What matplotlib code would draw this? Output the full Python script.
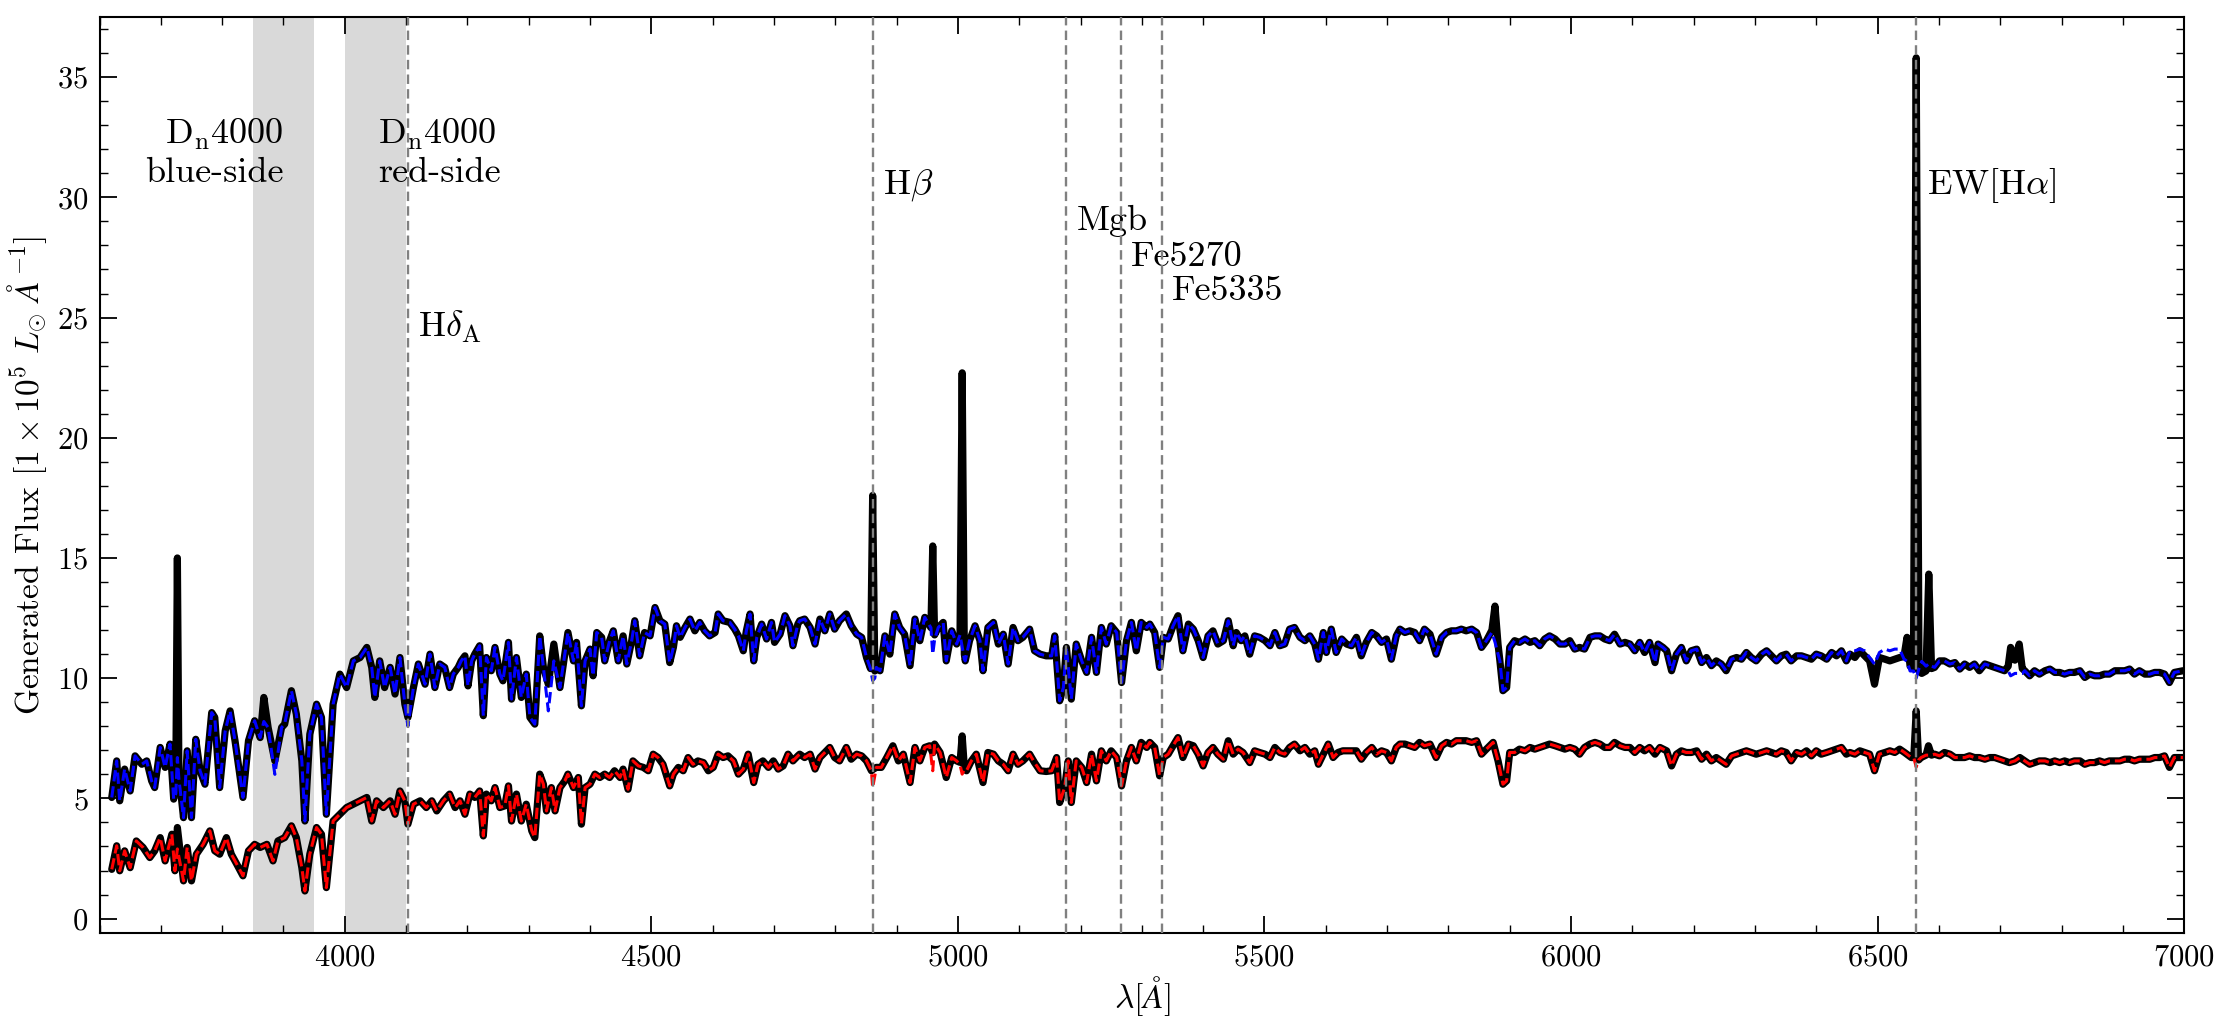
import matplotlib
matplotlib.use("Agg")
import matplotlib.pyplot as plt
from matplotlib.ticker import MultipleLocator

plt.rcParams['font.family'] = 'serif'
plt.rcParams['font.serif'] = ['cmr10']
plt.rcParams['mathtext.fontset'] = 'cm'
plt.rcParams['axes.formatter.use_mathtext'] = True
plt.rcParams['axes.unicode_minus'] = False

# ---------------- data ----------------
upper_wave = [
    3620, 3628, 3633, 3641, 3650, 3658, 3669, 3677, 3685, 3690, 3699, 3707, 3715, 3721,
    3724.5, 3727, 3729.5, 3737, 3743, 3750, 3757, 3764, 3772, 3783, 3788, 3796, 3805, 3813,
    3821, 3834, 3843, 3853, 3862, 3868, 3875, 3886, 3897, 3902, 3913, 3921, 3930, 3935,
    3943, 3954, 3962, 3970, 3981, 3992, 4003, 4014, 4025, 4036, 4044, 4049, 4057, 4065,
    4074, 4082, 4090, 4098, 4103, 4112, 4120, 4131, 4139, 4147, 4155, 4163, 4171, 4177,
    4185, 4190, 4196, 4201, 4207, 4212, 4220, 4226, 4231, 4239, 4245, 4253, 4258, 4267,
    4272, 4280, 4288, 4296, 4302, 4310, 4318, 4324, 4332, 4341, 4351, 4359, 4364, 4373,
    4378, 4386, 4392, 4400, 4405, 4411, 4419, 4424, 4432, 4438, 4446, 4454, 4460, 4468,
    4473, 4481, 4489, 4498, 4506, 4514, 4522, 4530, 4536, 4541, 4547, 4555, 4563, 4571,
    4579, 4587, 4595, 4604, 4609, 4617, 4628, 4636, 4642, 4650, 4655, 4661, 4667, 4672,
    4680, 4688, 4696, 4701, 4710, 4718, 4726, 4731, 4739, 4742, 4750, 4759, 4767, 4775,
    4783, 4791, 4799, 4807, 4818, 4826, 4835, 4843, 4851, 4857.5, 4861, 4864.5, 4867, 4873,
    4881, 4889, 4897, 4905, 4913, 4922, 4930, 4938, 4946, 4954, 4956, 4959, 4962, 4968,
    4976, 4981, 4990, 4998, 5003.5, 5007, 5010.5, 5012, 5019, 5028, 5036, 5041, 5049, 5058,
    5066, 5074, 5082, 5090, 5098, 5106, 5117, 5125, 5134, 5144, 5153, 5158, 5166, 5172,
    5177, 5185, 5193, 5202, 5210, 5218, 5226, 5234, 5242, 5250, 5259, 5267, 5275, 5283,
    5291, 5299, 5308, 5313, 5321, 5329, 5335, 5343, 5351, 5359, 5367, 5376, 5384, 5392,
    5400, 5408, 5416, 5424, 5433, 5441, 5449, 5454, 5462, 5468, 5476, 5484, 5492, 5501,
    5509, 5517, 5525, 5533, 5541, 5549, 5558, 5566, 5574, 5582, 5588, 5596, 5601, 5609,
    5617, 5626, 5634, 5642, 5650, 5658, 5666, 5675, 5683, 5691, 5699, 5707, 5715, 5721,
    5729, 5737, 5745, 5753, 5761, 5770, 5780, 5789, 5797, 5805, 5813, 5821, 5829, 5838,
    5846, 5854, 5862, 5871, 5876, 5881, 5884, 5889, 5895, 5900, 5908, 5916, 5925, 5933,
    5941, 5949, 5957, 5965, 5974, 5982, 5990, 5998, 6006, 6014, 6022, 6031, 6039, 6047,
    6055, 6063, 6071, 6080, 6088, 6096, 6104, 6112, 6120, 6128, 6137, 6142, 6150, 6156,
    6164, 6172, 6180, 6188, 6196, 6205, 6213, 6221, 6229, 6237, 6245, 6253, 6262, 6270,
    6278, 6286, 6294, 6302, 6311, 6319, 6327, 6335, 6343, 6351, 6359, 6368, 6376, 6384,
    6392, 6400, 6408, 6417, 6425, 6433, 6441, 6449, 6455, 6463, 6471, 6479, 6487, 6495,
    6503, 6512, 6520, 6528, 6536, 6543, 6548, 6553, 6558.5, 6563, 6567.5, 6572, 6579, 6583.5,
    6588, 6593, 6601, 6609, 6618, 6626, 6634, 6642, 6650, 6658, 6666, 6675, 6683, 6691,
    6699, 6707, 6713, 6717, 6724, 6731, 6736, 6740, 6748, 6756, 6764, 6773, 6781, 6789,
    6797, 6805, 6813, 6821, 6830, 6838, 6846, 6854, 6862, 6870, 6878, 6887, 6895, 6903,
    6911, 6919, 6927, 6936, 6944, 6952, 6960, 6968, 6976, 6984, 6998,
]
upper_obs = [
    5.04, 6.56, 4.90, 6.22, 5.31, 6.77, 6.42, 6.56, 5.73, 5.45, 7.12, 6.29, 7.26, 4.97,
    6.00, 15.00, 6.00, 4.20, 6.98, 4.20, 7.46, 6.15, 5.59, 8.57, 8.37, 5.45, 7.81, 8.64,
    7.40, 5.04, 7.40, 8.23, 7.53, 9.20, 7.95, 6.56, 7.95, 8.09, 9.48, 8.51, 6.56, 4.06,
    7.67, 8.92, 8.37, 4.34, 8.92, 10.17, 9.61, 10.72, 10.86, 11.28, 10.45, 9.20, 10.72, 9.61,
    10.45, 9.34, 10.86, 8.92, 8.37, 9.61, 10.59, 9.75, 11.00, 9.61, 10.59, 10.45, 9.61, 10.17,
    10.45, 10.72, 10.93, 9.68, 10.72, 11.00, 11.35, 8.44, 10.86, 10.31, 11.28, 10.17, 9.89, 11.49,
    9.13, 10.86, 9.20, 10.17, 8.37, 8.09, 11.76, 10.45, 9.75, 11.42, 9.61, 11.00, 11.90, 10.72,
    11.49, 8.85, 10.72, 11.21, 10.10, 11.90, 11.70, 10.72, 11.56, 11.97, 10.72, 11.76, 10.59, 11.56,
    12.39, 10.93, 11.90, 11.76, 12.94, 12.39, 12.25, 10.65, 11.28, 12.18, 11.70, 12.11, 12.46, 11.97,
    12.32, 11.97, 11.76, 11.90, 12.67, 12.39, 12.32, 12.04, 11.76, 11.14, 11.97, 12.67, 10.72, 11.70,
    12.25, 11.63, 12.32, 11.49, 11.83, 12.60, 12.18, 11.35, 12.25, 12.39, 12.46, 12.11, 11.42, 12.46,
    11.97, 12.67, 12.04, 12.39, 12.67, 12.18, 11.83, 11.70, 10.86, 10.40, 17.60, 10.30, 10.45, 10.31,
    11.76, 11.00, 12.67, 12.11, 11.83, 10.52, 12.46, 11.56, 12.53, 12.18, 12.10, 15.50, 11.80, 12.11,
    12.32, 10.72, 11.97, 11.42, 11.83, 22.70, 11.00, 10.72, 11.56, 12.18, 11.56, 10.31, 12.11, 12.32,
    11.42, 11.83, 10.59, 12.11, 11.56, 11.70, 12.04, 11.14, 11.00, 10.93, 10.93, 11.76, 9.06, 9.61,
    11.28, 9.13, 11.42, 10.72, 10.24, 11.70, 10.24, 12.11, 11.42, 12.18, 11.90, 9.82, 11.56, 12.32,
    11.14, 12.32, 12.11, 12.25, 11.90, 10.45, 11.70, 11.63, 12.18, 12.60, 11.14, 12.25, 12.04, 11.56,
    10.86, 11.76, 11.97, 11.42, 11.56, 12.39, 11.35, 11.90, 11.56, 11.76, 11.00, 11.76, 11.70, 11.56,
    11.35, 11.90, 11.35, 11.42, 12.04, 12.11, 11.70, 11.56, 11.76, 11.42, 10.79, 11.90, 11.07, 12.04,
    11.07, 11.63, 11.42, 11.35, 11.70, 10.93, 11.49, 11.90, 11.76, 11.49, 11.63, 10.79, 11.76, 12.04,
    11.90, 11.97, 11.90, 11.56, 12.04, 11.83, 11.00, 11.70, 11.90, 11.97, 11.97, 12.04, 11.97, 12.04,
    11.90, 11.28, 11.56, 12.00, 13.00, 11.40, 10.72, 9.48, 9.61, 11.28, 11.56, 11.49, 11.63, 11.49,
    11.56, 11.35, 11.63, 11.76, 11.63, 11.42, 11.42, 11.56, 11.21, 11.28, 11.21, 11.70, 11.76, 11.76,
    11.63, 11.56, 11.83, 11.42, 11.49, 11.42, 11.14, 11.49, 11.07, 11.49, 10.65, 11.42, 11.28, 11.14,
    10.31, 11.00, 11.28, 10.72, 11.14, 11.21, 10.65, 10.86, 10.52, 10.72, 10.59, 10.31, 10.79, 10.86,
    10.79, 11.07, 10.86, 10.72, 11.00, 11.14, 10.93, 10.72, 10.93, 11.00, 10.72, 10.93, 10.93, 10.86,
    10.79, 11.00, 10.93, 10.79, 11.07, 10.93, 11.14, 10.72, 11.00, 10.86, 11.14, 10.93, 10.72, 9.75,
    10.86, 10.79, 10.72, 10.79, 10.86, 10.90, 11.70, 10.50, 10.40, 35.80, 10.30, 10.20, 10.30, 14.33,
    10.40, 10.45, 10.72, 10.72, 10.59, 10.65, 10.38, 10.59, 10.45, 10.59, 10.31, 10.59, 10.52, 10.45,
    10.38, 10.31, 10.50, 11.28, 10.75, 11.42, 10.40, 10.31, 10.10, 10.31, 10.17, 10.31, 10.38, 10.24,
    10.24, 10.17, 10.24, 10.24, 10.31, 10.03, 10.17, 10.10, 10.10, 10.17, 10.17, 10.31, 10.31, 10.31,
    10.38, 10.17, 10.31, 10.17, 10.17, 10.24, 10.24, 10.17, 9.82, 10.24, 10.31,
]
# blue model: same as the observed curve except at these wavelengths
upper_model_diff = {
    3724.5: 5.2, 3727: 6.7, 3729.5: 5.8, 3868: 8.2, 3886: 6.0, 4103: 8.0,
    4332: 8.64, 4341: 10.72, 4857.5: 10.4, 4861: 9.9, 4864.5: 10.0,
    4956: 12.1, 4959: 11.0, 4962: 11.6, 5003.5: 11.8, 5007: 11.3, 5010.5: 10.8,
    5871: 11.9, 5876: 11.5, 5881: 11.0,
    6455: 11.14, 6463: 11.14, 6471: 11.21, 6479: 11.14, 6487: 10.86, 6495: 10.59,
    6503: 11.07, 6512: 11.21, 6520: 11.14, 6528: 11.21, 6536: 11.21, 6543: 10.8,
    6548: 10.7, 6553: 10.3, 6558.5: 10.3, 6563: 10.0, 6567.5: 10.4, 6572: 10.7,
    6579: 10.5, 6583.5: 10.6, 6588: 10.5,
    6713: 10.3, 6717: 10.1, 6724: 10.2, 6731: 10.2, 6736: 10.2,
}

lower_wave = [
    3620, 3628, 3633, 3641, 3650, 3660, 3671, 3682, 3690, 3699, 3707, 3718, 3723, 3727,
    3737, 3743, 3750, 3758, 3769, 3780, 3788, 3796, 3807, 3815, 3824, 3834, 3843, 3853,
    3862, 3873, 3883, 3891, 3902, 3913, 3921, 3930, 3935, 3943, 3954, 3962, 3970, 3981,
    3992, 4003, 4014, 4025, 4036, 4044, 4052, 4063, 4074, 4082, 4090, 4098, 4103, 4112,
    4123, 4133, 4142, 4150, 4161, 4171, 4180, 4188, 4196, 4204, 4212, 4220, 4226, 4231,
    4239, 4245, 4253, 4261, 4267, 4272, 4280, 4288, 4296, 4305, 4310, 4318, 4324, 4329,
    4337, 4343, 4351, 4359, 4364, 4373, 4381, 4386, 4392, 4400, 4408, 4416, 4424, 4432,
    4440, 4449, 4454, 4462, 4470, 4479, 4487, 4495, 4503, 4511, 4519, 4530, 4536, 4544,
    4552, 4560, 4568, 4576, 4585, 4593, 4601, 4609, 4617, 4625, 4634, 4642, 4650, 4658,
    4667, 4674, 4682, 4691, 4699, 4707, 4715, 4723, 4731, 4739, 4742, 4750, 4759, 4767,
    4775, 4783, 4791, 4799, 4807, 4818, 4826, 4835, 4843, 4851, 4859, 4861, 4867, 4875,
    4884, 4894, 4903, 4911, 4922, 4930, 4938, 4946, 4954, 4959, 4962, 4971, 4981, 4990,
    4998, 5003.5, 5007, 5010.5, 5014, 5022, 5030, 5041, 5049, 5058, 5066, 5074, 5082, 5090,
    5098, 5106, 5117, 5125, 5134, 5144, 5153, 5161, 5166, 5174, 5180, 5185, 5193, 5202,
    5210, 5218, 5226, 5234, 5242, 5250, 5259, 5267, 5275, 5283, 5291, 5299, 5308, 5313,
    5321, 5329, 5335, 5343, 5351, 5359, 5367, 5376, 5384, 5392, 5400, 5408, 5416, 5424,
    5433, 5441, 5449, 5457, 5465, 5476, 5484, 5492, 5501, 5509, 5517, 5525, 5533, 5541,
    5549, 5558, 5566, 5574, 5582, 5588, 5596, 5604, 5612, 5620, 5628, 5639, 5650, 5658,
    5666, 5675, 5683, 5691, 5699, 5707, 5715, 5721, 5729, 5737, 5745, 5753, 5761, 5770,
    5780, 5789, 5797, 5805, 5813, 5821, 5829, 5838, 5846, 5854, 5862, 5873, 5881, 5889,
    5895, 5900, 5908, 5916, 5925, 5933, 5941, 5949, 5957, 5965, 5974, 5982, 5990, 5998,
    6006, 6014, 6022, 6031, 6039, 6047, 6055, 6063, 6071, 6080, 6088, 6096, 6104, 6112,
    6120, 6128, 6137, 6145, 6156, 6164, 6172, 6180, 6188, 6196, 6205, 6213, 6221, 6229,
    6237, 6245, 6253, 6262, 6270, 6278, 6286, 6294, 6302, 6311, 6319, 6327, 6335, 6343,
    6351, 6359, 6368, 6376, 6384, 6392, 6400, 6408, 6417, 6425, 6433, 6441, 6449, 6455,
    6463, 6471, 6479, 6487, 6495, 6503, 6512, 6520, 6528, 6536, 6544, 6555, 6559, 6563,
    6567, 6571, 6579, 6583, 6588, 6593, 6601, 6609, 6618, 6626, 6634, 6642, 6650, 6658,
    6666, 6675, 6683, 6691, 6699, 6707, 6715, 6724, 6732, 6740, 6748, 6756, 6764, 6773,
    6781, 6789, 6797, 6805, 6813, 6821, 6830, 6838, 6846, 6854, 6862, 6870, 6878, 6887,
    6895, 6903, 6911, 6919, 6927, 6936, 6944, 6952, 6960, 6968, 6976, 6984, 6998,
]
lower_obs = [
    2.05, 3.03, 1.99, 2.82, 2.12, 3.23, 2.96, 2.54, 2.82, 3.37, 2.40, 3.51, 1.99, 3.79,
    1.57, 2.96, 1.57, 2.68, 3.09, 3.65, 2.82, 2.68, 3.37, 2.68, 2.26, 1.78, 2.82, 3.09,
    2.96, 3.09, 2.40, 3.23, 3.37, 3.86, 3.37, 2.12, 1.15, 2.68, 3.79, 3.51, 1.29, 4.06,
    4.34, 4.62, 4.76, 4.90, 5.04, 4.06, 4.90, 4.62, 4.90, 4.34, 5.31, 4.90, 3.93, 4.76,
    4.90, 4.62, 4.90, 4.48, 4.90, 5.18, 4.62, 4.90, 4.34, 5.18, 5.04, 5.31, 3.44, 5.18,
    4.90, 5.45, 4.62, 4.69, 5.52, 4.06, 5.18, 4.06, 4.76, 3.65, 3.37, 6.01, 5.59, 4.48,
    5.45, 4.48, 5.45, 5.73, 6.01, 5.45, 5.87, 3.93, 5.45, 5.59, 6.01, 5.87, 6.01, 5.87,
    6.15, 5.87, 6.22, 5.38, 6.56, 6.35, 6.29, 6.15, 6.84, 6.70, 6.42, 5.52, 6.01, 6.29,
    6.15, 6.70, 6.42, 6.56, 6.49, 6.15, 6.29, 6.84, 6.70, 6.77, 6.56, 6.01, 6.22, 6.84,
    5.66, 6.42, 6.56, 6.29, 6.56, 6.22, 6.35, 6.84, 6.56, 6.77, 6.84, 6.70, 6.84, 6.22,
    6.70, 6.91, 7.12, 6.70, 6.56, 7.12, 6.63, 6.84, 6.77, 6.56, 6.15, 6.20, 6.29, 6.29,
    6.70, 7.19, 6.56, 6.84, 5.66, 7.12, 6.56, 7.12, 7.19, 6.90, 7.26, 6.91, 5.87, 6.70,
    6.56, 6.50, 7.60, 6.30, 6.15, 6.56, 6.84, 5.66, 6.91, 6.84, 6.56, 6.42, 6.15, 6.84,
    6.42, 6.56, 6.84, 6.49, 6.15, 6.12, 6.15, 6.70, 4.83, 5.45, 6.56, 4.83, 6.56, 6.29,
    5.66, 6.84, 5.73, 6.98, 6.56, 6.98, 6.70, 5.52, 6.56, 7.12, 6.56, 7.33, 7.12, 7.33,
    7.12, 5.94, 6.70, 6.84, 7.19, 7.53, 6.70, 7.26, 7.19, 6.84, 6.35, 6.91, 7.12, 6.84,
    6.63, 7.40, 6.84, 7.05, 6.91, 6.49, 6.98, 6.91, 6.84, 6.70, 7.12, 6.91, 6.84, 7.12,
    7.26, 6.98, 7.12, 6.84, 6.98, 6.42, 6.84, 7.26, 6.70, 6.91, 6.98, 6.98, 6.98, 6.63,
    6.91, 7.12, 6.84, 6.98, 6.91, 6.56, 7.12, 7.26, 7.26, 7.19, 7.12, 7.33, 7.19, 7.26,
    6.70, 7.19, 7.33, 7.26, 7.40, 7.40, 7.40, 7.33, 7.40, 6.84, 7.05, 7.33, 6.56, 5.59,
    5.73, 6.91, 6.91, 7.05, 6.98, 7.12, 7.05, 7.12, 7.19, 7.26, 7.19, 7.12, 7.05, 7.12,
    7.05, 6.84, 7.12, 7.26, 7.33, 7.26, 7.12, 7.12, 7.33, 7.19, 7.12, 7.12, 6.91, 7.12,
    6.98, 7.12, 6.84, 7.12, 6.98, 6.35, 6.84, 6.98, 6.91, 6.91, 6.98, 6.63, 6.84, 6.56,
    6.70, 6.56, 6.42, 6.77, 6.84, 6.91, 6.98, 6.91, 6.84, 6.91, 6.98, 6.91, 6.84, 6.98,
    6.91, 6.56, 6.91, 6.84, 6.98, 6.77, 6.98, 6.84, 6.91, 6.98, 7.05, 7.12, 6.84, 6.91,
    6.84, 6.98, 6.91, 6.84, 6.15, 6.84, 6.91, 6.98, 6.91, 7.05, 6.91, 6.70, 6.70, 8.64,
    6.60, 6.70, 6.80, 7.19, 6.80, 6.84, 6.77, 6.91, 6.84, 6.70, 6.70, 6.70, 6.77, 6.70,
    6.70, 6.63, 6.70, 6.70, 6.63, 6.56, 6.49, 6.56, 6.70, 6.56, 6.42, 6.49, 6.56, 6.56,
    6.49, 6.56, 6.49, 6.56, 6.49, 6.56, 6.56, 6.42, 6.49, 6.49, 6.56, 6.49, 6.56, 6.56,
    6.56, 6.63, 6.63, 6.56, 6.63, 6.63, 6.63, 6.70, 6.70, 6.77, 6.29, 6.70, 6.70,
]
lower_model_diff = {3727: 2.9, 4861: 5.45, 4959: 6.15, 5003.5: 6.4, 5007: 6.01,
                    5010.5: 6.2, 6563: 6.3, 6583: 6.8}

index_lines = [4102.9, 4861.3, 5176.4, 5265.7, 5332.1, 6562.8]
index_labels = [r'H$\delta_{\rm A}$', r'H$\beta$', 'Mgb', 'Fe5270', 'Fe5335', r'EW[H$\alpha$]']
index_label_y = [24.6, 30.5, 29.0, 27.5, 26.1, 30.5]
dn4000_bands = [(3850, 3950), (4000, 4100)]

upper_model = [upper_model_diff.get(w, v) for w, v in zip(upper_wave, upper_obs)]
lower_model = [lower_model_diff.get(w, v) for w, v in zip(lower_wave, lower_obs)]

# ---------------- figure ----------------
fig = plt.figure(figsize=(22.31, 10.31), dpi=100)
ax = fig.add_axes([0.0446, 0.095, 0.979 - 0.0446, 0.9835 - 0.095])

for lo, hi in dn4000_bands:
    ax.axvspan(lo, hi, color='#d9d9d9', lw=0, zorder=0)
for xl in index_lines:
    ax.axvline(xl, color='grey', ls=(0, (4, 2.2)), lw=1.7, zorder=4)

ax.plot(upper_wave, upper_obs, color='black', lw=5.2, zorder=2,
        solid_joinstyle='round', solid_capstyle='round')
ax.plot(upper_wave, upper_model, color='blue', lw=2.2, ls='--', zorder=3)
ax.plot(lower_wave, lower_obs, color='black', lw=5.2, zorder=2,
        solid_joinstyle='round', solid_capstyle='round')
ax.plot(lower_wave, lower_model, color='red', lw=2.2, ls='--', zorder=3)

for xl, lab, yl in zip(index_lines, index_labels, index_label_y):
    ax.text(xl + 17, yl, lab, fontsize=26, ha='left', va='center')
ax.text(3900, 31.85, 'D$_{\\rm n}$4000\nblue-side', fontsize=26, ha='right', va='center',
        linespacing=1.25)
ax.text(4055, 31.85, 'D$_{\\rm n}$4000\nred-side', fontsize=26, ha='left', va='center',
        linespacing=1.25)

ax.set_xlim(3600, 7000)
ax.set_ylim(-0.6, 37.5)
ax.xaxis.set_major_locator(MultipleLocator(500))
ax.xaxis.set_minor_locator(MultipleLocator(100))
ax.yaxis.set_major_locator(MultipleLocator(5))
ax.yaxis.set_minor_locator(MultipleLocator(1))
ax.tick_params(which='both', direction='in', top=True, right=True, labelsize=22)
ax.tick_params(which='major', length=12, width=1.3, pad=8)
ax.tick_params(which='minor', length=6, width=1.0)
for s in ax.spines.values():
    s.set_linewidth(1.5)

ax.set_xlabel(r'$\lambda [\AA]$', fontsize=24, labelpad=2)
ax.set_ylabel(r'Generated Flux [$1\times10^5\ L_{\odot}\ \AA^{-1}$]', fontsize=24, labelpad=6)

fig.savefig('out.png', dpi=100)
